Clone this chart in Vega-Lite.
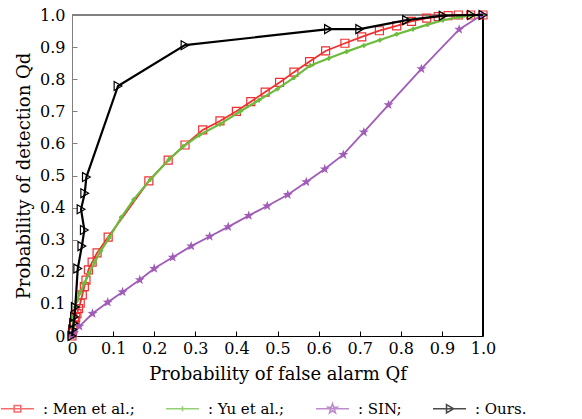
{
  "$schema": "https://vega.github.io/schema/vega-lite/v6.json",
  "width": 411,
  "height": 321,
  "autosize": {"type": "none"},
  "padding": {"left": 72, "top": 15, "right": 99, "bottom": 83},
  "background": "white",
  "config": {
    "view": {"stroke": null},
    "font": "DejaVu Serif",
    "axis": {
      "labelFont": "DejaVu Serif", "labelFontSize": 16, "labelColor": "black",
      "titleFont": "DejaVu Serif", "titleFontSize": 18, "titleFontWeight": "normal", "titleColor": "black",
      "grid": false
    },
    "legend": {
      "labelFont": "DejaVu Serif", "labelFontSize": 15, "labelColor": "black"
    }
  },
  "data": {"values": [
    {"s":"Men et al.","k":0,"x":0,"y":0},
    {"s":"Men et al.","k":1,"x":0.001,"y":0.01},
    {"s":"Men et al.","k":2,"x":0.002,"y":0.02},
    {"s":"Men et al.","k":3,"x":0.004,"y":0.035},
    {"s":"Men et al.","k":4,"x":0.006,"y":0.045},
    {"s":"Men et al.","k":5,"x":0.009,"y":0.058},
    {"s":"Men et al.","k":6,"x":0.012,"y":0.07},
    {"s":"Men et al.","k":7,"x":0.016,"y":0.085},
    {"s":"Men et al.","k":8,"x":0.02,"y":0.102},
    {"s":"Men et al.","k":9,"x":0.025,"y":0.128},
    {"s":"Men et al.","k":10,"x":0.03,"y":0.154},
    {"s":"Men et al.","k":11,"x":0.034,"y":0.174},
    {"s":"Men et al.","k":12,"x":0.04,"y":0.206},
    {"s":"Men et al.","k":13,"x":0.049,"y":0.23},
    {"s":"Men et al.","k":14,"x":0.061,"y":0.259},
    {"s":"Men et al.","k":15,"x":0.088,"y":0.308},
    {"s":"Men et al.","k":16,"x":0.187,"y":0.483},
    {"s":"Men et al.","k":17,"x":0.234,"y":0.548},
    {"s":"Men et al.","k":18,"x":0.275,"y":0.595},
    {"s":"Men et al.","k":19,"x":0.318,"y":0.642},
    {"s":"Men et al.","k":20,"x":0.36,"y":0.67},
    {"s":"Men et al.","k":21,"x":0.4,"y":0.7},
    {"s":"Men et al.","k":22,"x":0.435,"y":0.73},
    {"s":"Men et al.","k":23,"x":0.47,"y":0.76},
    {"s":"Men et al.","k":24,"x":0.505,"y":0.79},
    {"s":"Men et al.","k":25,"x":0.54,"y":0.822},
    {"s":"Men et al.","k":26,"x":0.578,"y":0.855},
    {"s":"Men et al.","k":27,"x":0.617,"y":0.888},
    {"s":"Men et al.","k":28,"x":0.664,"y":0.912},
    {"s":"Men et al.","k":29,"x":0.705,"y":0.932},
    {"s":"Men et al.","k":30,"x":0.748,"y":0.951},
    {"s":"Men et al.","k":31,"x":0.79,"y":0.966},
    {"s":"Men et al.","k":32,"x":0.826,"y":0.98},
    {"s":"Men et al.","k":33,"x":0.863,"y":0.99},
    {"s":"Men et al.","k":34,"x":0.891,"y":0.995},
    {"s":"Men et al.","k":35,"x":0.915,"y":0.998},
    {"s":"Men et al.","k":36,"x":0.94,"y":1.0},
    {"s":"Men et al.","k":37,"x":0.97,"y":1.0},
    {"s":"Men et al.","k":38,"x":1.0,"y":1.0},
    {"s":"Yu et al.","k":0,"x":0,"y":0},
    {"s":"Yu et al.","k":1,"x":0.002,"y":0.03},
    {"s":"Yu et al.","k":2,"x":0.004,"y":0.06},
    {"s":"Yu et al.","k":3,"x":0.007,"y":0.09},
    {"s":"Yu et al.","k":4,"x":0.012,"y":0.11},
    {"s":"Yu et al.","k":5,"x":0.02,"y":0.135},
    {"s":"Yu et al.","k":6,"x":0.03,"y":0.165},
    {"s":"Yu et al.","k":7,"x":0.042,"y":0.195},
    {"s":"Yu et al.","k":8,"x":0.055,"y":0.23},
    {"s":"Yu et al.","k":9,"x":0.07,"y":0.265},
    {"s":"Yu et al.","k":10,"x":0.09,"y":0.305},
    {"s":"Yu et al.","k":11,"x":0.12,"y":0.37},
    {"s":"Yu et al.","k":12,"x":0.15,"y":0.425},
    {"s":"Yu et al.","k":13,"x":0.19,"y":0.487},
    {"s":"Yu et al.","k":14,"x":0.236,"y":0.55},
    {"s":"Yu et al.","k":15,"x":0.27,"y":0.59},
    {"s":"Yu et al.","k":16,"x":0.31,"y":0.626},
    {"s":"Yu et al.","k":17,"x":0.36,"y":0.66},
    {"s":"Yu et al.","k":18,"x":0.41,"y":0.7},
    {"s":"Yu et al.","k":19,"x":0.455,"y":0.735},
    {"s":"Yu et al.","k":20,"x":0.5,"y":0.77},
    {"s":"Yu et al.","k":21,"x":0.54,"y":0.805},
    {"s":"Yu et al.","k":22,"x":0.579,"y":0.842},
    {"s":"Yu et al.","k":23,"x":0.625,"y":0.865},
    {"s":"Yu et al.","k":24,"x":0.668,"y":0.886},
    {"s":"Yu et al.","k":25,"x":0.71,"y":0.905},
    {"s":"Yu et al.","k":26,"x":0.749,"y":0.922},
    {"s":"Yu et al.","k":27,"x":0.79,"y":0.94},
    {"s":"Yu et al.","k":28,"x":0.83,"y":0.956},
    {"s":"Yu et al.","k":29,"x":0.865,"y":0.97},
    {"s":"Yu et al.","k":30,"x":0.903,"y":0.984},
    {"s":"Yu et al.","k":31,"x":0.94,"y":0.993},
    {"s":"Yu et al.","k":32,"x":0.97,"y":0.998},
    {"s":"Yu et al.","k":33,"x":1.0,"y":1.0},
    {"s":"SIN","k":0,"x":0,"y":0},
    {"s":"SIN","k":1,"x":0.005,"y":0.01},
    {"s":"SIN","k":2,"x":0.018,"y":0.03},
    {"s":"SIN","k":3,"x":0.05,"y":0.07},
    {"s":"SIN","k":4,"x":0.087,"y":0.105},
    {"s":"SIN","k":5,"x":0.123,"y":0.137},
    {"s":"SIN","k":6,"x":0.165,"y":0.175},
    {"s":"SIN","k":7,"x":0.2,"y":0.21},
    {"s":"SIN","k":8,"x":0.245,"y":0.245},
    {"s":"SIN","k":9,"x":0.29,"y":0.28},
    {"s":"SIN","k":10,"x":0.335,"y":0.31},
    {"s":"SIN","k":11,"x":0.38,"y":0.34},
    {"s":"SIN","k":12,"x":0.43,"y":0.375},
    {"s":"SIN","k":13,"x":0.475,"y":0.405},
    {"s":"SIN","k":14,"x":0.525,"y":0.44},
    {"s":"SIN","k":15,"x":0.57,"y":0.48},
    {"s":"SIN","k":16,"x":0.615,"y":0.52},
    {"s":"SIN","k":17,"x":0.66,"y":0.565},
    {"s":"SIN","k":18,"x":0.71,"y":0.635},
    {"s":"SIN","k":19,"x":0.77,"y":0.72},
    {"s":"SIN","k":20,"x":0.85,"y":0.832},
    {"s":"SIN","k":21,"x":0.942,"y":0.955},
    {"s":"SIN","k":22,"x":0.997,"y":1.0},
    {"s":"Ours","k":0,"x":0,"y":0},
    {"s":"Ours","k":1,"x":0.002,"y":0.02},
    {"s":"Ours","k":2,"x":0.004,"y":0.04},
    {"s":"Ours","k":3,"x":0.006,"y":0.06},
    {"s":"Ours","k":4,"x":0.008,"y":0.09},
    {"s":"Ours","k":5,"x":0.014,"y":0.21},
    {"s":"Ours","k":6,"x":0.024,"y":0.28},
    {"s":"Ours","k":7,"x":0.03,"y":0.33},
    {"s":"Ours","k":8,"x":0.022,"y":0.395},
    {"s":"Ours","k":9,"x":0.031,"y":0.445},
    {"s":"Ours","k":10,"x":0.035,"y":0.495},
    {"s":"Ours","k":11,"x":0.112,"y":0.779},
    {"s":"Ours","k":12,"x":0.275,"y":0.906},
    {"s":"Ours","k":13,"x":0.624,"y":0.956},
    {"s":"Ours","k":14,"x":0.7,"y":0.956},
    {"s":"Ours","k":15,"x":0.814,"y":0.984},
    {"s":"Ours","k":16,"x":0.903,"y":0.998},
    {"s":"Ours","k":17,"x":0.972,"y":1.0},
    {"s":"Ours","k":18,"x":1.0,"y":1.0}
  ]},
  "encoding": {
    "x": {"field": "x", "type": "quantitative",
      "scale": {"domain": [0, 1], "nice": false, "zero": false},
      "axis": {"title": "Probability of false alarm Qf", "values": [0,0.1,0.2,0.3,0.4,0.5,0.6,0.7,0.8,0.9,1],
        "labelExpr": "datum.value == 0 ? '0' : format(datum.value, '.1f')",
        "domainColor": "black", "tickColor": "black", "tickSize": -5, "labelPadding": 9, "titlePadding": 9, "labelFlush": false}},
    "y": {"field": "y", "type": "quantitative",
      "scale": {"domain": [0, 1], "nice": false, "zero": false},
      "axis": {"title": "Probability of detection Qd", "values": [0,0.1,0.2,0.3,0.4,0.5,0.6,0.7,0.8,0.9,1],
        "labelExpr": "datum.value == 0 ? '0' : format(datum.value, '.1f')",
        "domainColor": "#808080", "tickColor": "#808080", "tickSize": -5, "labelPadding": 12, "titlePadding": 6, "labelFlush": false}},
    "order": {"field": "k", "type": "quantitative"}
  },
  "layer": [
    {"mark": {"type": "rule", "color": "#808080", "strokeWidth": 1.2}, "encoding": {"y": {"datum": 1}, "x": {"datum": 0}, "x2": {"datum": 1}, "order": null}},
    {"mark": {"type": "rule", "color": "black", "strokeWidth": 1.2}, "encoding": {"x": {"datum": 1}, "y": {"datum": 0}, "y2": {"datum": 1}, "order": null}},
    {"transform": [{"filter": "datum.s == 'Men et al.'"}],
     "mark": {"type": "line", "color": "#f03030", "strokeWidth": 1.8,
       "point": {"shape": "square", "filled": false, "size": 64, "color": "#f03030", "strokeWidth": 1.2}}},
    {"transform": [{"filter": "datum.s == 'Yu et al.'"}],
     "mark": {"type": "line", "color": "#6cbb3c", "strokeWidth": 2.2,
       "point": {"shape": "cross", "filled": true, "size": 22, "color": "#6cbb3c"}}},
    {"transform": [{"filter": "datum.s == 'SIN'"}],
     "mark": {"type": "line", "color": "#a05cb8", "strokeWidth": 1.8,
       "point": {"shape": "M0,-1L0.235,-0.324L0.951,-0.309L0.38,0.124L0.588,0.809L0,0.4L-0.588,0.809L-0.38,0.124L-0.951,-0.309L-0.235,-0.324Z", "filled": true, "size": 110, "color": "#a05cb8"}}},
    {"transform": [{"filter": "datum.s == 'Ours'"}],
     "mark": {"type": "line", "color": "black", "strokeWidth": 2.2,
       "point": {"shape": "triangle-right", "filled": false, "size": 80, "color": "black", "strokeWidth": 1.2}}},
    {"transform": [{"filter": "false"}],
     "mark": {"type": "point", "filled": false},
     "encoding": {
       "color": {"field": "s", "type": "nominal",
         "scale": {"domain": ["Men et al.", "Yu et al.", "SIN", "Ours"], "range": ["#f03030", "#6cbb3c", "#a05cb8", "black"]},
         "legend": {"orient": "none", "legendX": -72, "legendY": 376, "direction": "horizontal", "title": null,
           "symbolSize": 1089, "symbolStrokeWidth": 1.6, "labelOffset": 8, "columnPadding": 27, "padding": 0,
           "labelExpr": "': ' + datum.label + (datum.label == 'Ours' ? '.' : ';')"}},
       "shape": {"field": "s", "type": "nominal",
         "scale": {"domain": ["Men et al.", "Yu et al.", "SIN", "Ours"], "range": [
           "M-1,0H1M-0.2,-0.2H0.2V0.2H-0.2Z",
           "M-1,0H1M0,-0.15V0.15",
           "M-1,0H1M0,-0.3L0.07,-0.097L0.285,-0.093L0.114,0.037L0.176,0.243L0,0.12L-0.176,0.243L-0.114,0.037L-0.285,-0.093L-0.07,-0.097Z",
           "M-1,0H1M-0.18,-0.25L0.25,0L-0.18,0.25Z"]},
         "legend": {"orient": "none", "legendX": -72, "legendY": 376, "direction": "horizontal", "title": null,
           "symbolSize": 1089, "symbolStrokeWidth": 1.6, "labelOffset": 8, "columnPadding": 27, "padding": 0,
           "labelExpr": "': ' + datum.label + (datum.label == 'Ours' ? '.' : ';')"}}
     }}
  ]
}
